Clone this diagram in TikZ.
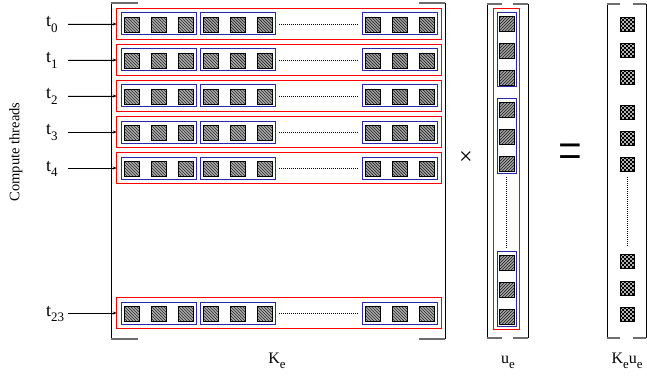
\documentclass[tikz,border=0pt]{standalone}
\usepackage{fontspec}
\setmainfont{Liberation Serif}
\usetikzlibrary{arrows.meta}
\newcommand\lsub[2][0.72]{\raisebox{-0.32em}{\scalebox{#1}{#2}}}
\definecolor{rowred}{RGB}{255,0,0}
\definecolor{grpblue}{RGB}{40,40,170}
\definecolor{brkgray}{RGB}{110,110,110}
\tikzset{
  rowbox/.style={minimum width=324pt, minimum height=30pt, inner sep=0pt},
  redframe/.style={draw=rowred, line width=1pt},
  grpbox/.style={draw=grpblue, line width=1pt},
  brk/.style={line width=0.9pt, draw=black},
  tick/.style={line width=1.3pt, draw=brkgray},
  dots/.style={line width=0.6pt, draw=black, dash pattern=on 1pt off 1pt},
  tlab/.style={font=\fontsize{18}{18}\selectfont, inner sep=0pt, anchor=base west},
  blab/.style={font=\fontsize{16}{16}\selectfont, inner sep=0pt, anchor=base},
  arr/.style={-{Stealth[length=4pt,width=3pt]}, line width=0.7pt, draw=black, fill=black},
  kq/.pic={
    \fill[gray!65] (0,0) rectangle (15,15);
    \begin{scope}
      \clip (0,0) rectangle (15,15);
      \foreach \k in {-15,-12,...,15}{\draw[line width=0.7pt, black!85] (\k,0) -- (\k+15,15);}
    \end{scope}
    \draw[line width=0.7pt, black] (0,0) rectangle (15,15);
  },
  uq/.pic={
    \fill[gray!65] (0,0) rectangle (15,15);
    \begin{scope}
      \clip (0,0) rectangle (15,15);
      \foreach \k in {-15,-12,...,15}{\draw[line width=0.7pt, black!85] (\k,15) -- (\k+15,0);}
    \end{scope}
    \draw[line width=0.7pt, black] (0,0) rectangle (15,15);
  },
  rq/.pic={
    \fill[gray!60] (0,0) rectangle (14,14);
    \foreach \i in {0,...,6}{
      \foreach \j in {0,...,6}{
        \pgfmathtruncatemacro\cbsum{\i+\j}
        \ifodd\cbsum\else\fill[black] (2*\i,2*\j) rectangle (2*\i+2,2*\j+2);\fi
      }
    }
    \draw[line width=0.7pt, black] (0,0) rectangle (14,14);
  }
}
\begin{document}
\begin{tikzpicture}[x=1pt,y=-1pt]
\useasboundingbox (0,0) rectangle (647,377);
% K bracket
\draw[brk] (111,3) -- (111,339);
\draw[tick] (111,3) -- (138,3);
\draw[tick] (111,339) -- (138,339);
\draw[brk] (445,3) -- (445,339);
\draw[tick] (445,3) -- (419,3);
\draw[tick] (445,339) -- (419,339);
% rows: squares first
\foreach \yr in {9,45,81,117,153,298}{
  \foreach \bx in {121,200,362}{
    \foreach \dx in {3,30,57}{
      \pic at (\bx+\dx,\yr+8) {kq};
    }
  }
  \draw[dots] (279,\yr+15) -- (359,\yr+15);
}
% u squares
\foreach \yy in {16,43,70,102,129,156,255,282,309}{
  \pic at (499,\yy) {uq};
}
% result squares
\foreach \yy in {17,43,70,105,131,157,254,281,307}{
  \pic at (620,\yy) {rq};
}
% coloured frames drawn last
\foreach \yr/\nm in {9/a,45/b,81/c,117/d,153/e,298/f}{
  \node[rowbox] (row\nm) at (279,\yr+15) {};
  \draw[redframe] (row\nm.north west) rectangle (row\nm.south east);
  \foreach \bx in {121,200,362}{
    \draw[grpbox] (\bx,\yr+4) rectangle (\bx+75,\yr+26);
  }
}
\draw[redframe] (493,9) rectangle (519,329);
\foreach \ya/\yb in {13/87,99/173,251/326}{
  \draw[grpbox] (497,\ya) rectangle (516,\yb);
}
% labels and arrows
\foreach \yr/\lbl/\nm in {9/0/a,45/1/b,81/2/c,117/3/d,153/4/e,298/23/f}{
  \node[tlab] (lab\nm) at (46,\yr+18) {t\lsub{\lbl}};
  \coordinate (s\nm) at (68,\yr+15);
  \draw[arr] (s\nm) -- (row\nm.west);
}
\node[rotate=90, font=\fontsize{14.5}{14.5}\selectfont, inner sep=0pt] (ct) at (16,152) {Compute threads};
% times
\node[font=\fontsize{24}{24}\selectfont, inner sep=0pt] (times) at (466,158) {×};
% u vector brackets
\draw[brk] (487,4) -- (487,338);
\draw[tick] (487,4) -- (502,4);
\draw[tick] (487,338) -- (502,338);
\draw[brk] (528,4) -- (528,338);
\draw[tick] (528,4) -- (513,4);
\draw[tick] (528,338) -- (513,338);
\draw[dots] (506,177) -- (506,248);
% equals
\node[font=\fontsize{40}{40}\selectfont, inner sep=0pt] (eq) at (570,157.5) {\scalebox{1.05}[1.45]{=}};
% result brackets
\draw[brk] (607,4) -- (607,338);
\draw[tick] (607,4) -- (620,4);
\draw[tick] (607,338) -- (620,338);
\draw[brk] (646,4) -- (646,338);
\draw[tick] (646,4) -- (633,4);
\draw[tick] (646,338) -- (633,338);
\draw[dots] (627,177) -- (627,247);
% labels
\node[blab] (kl) at (277,363) {K\lsub[0.8]{e}};
\node[blab] (ul) at (508,363) {u\lsub[0.8]{e}};
\node[blab] (kul) at (627,363) {K\lsub[0.8]{e}u\lsub[0.8]{e}};
\end{tikzpicture}
\end{document}
